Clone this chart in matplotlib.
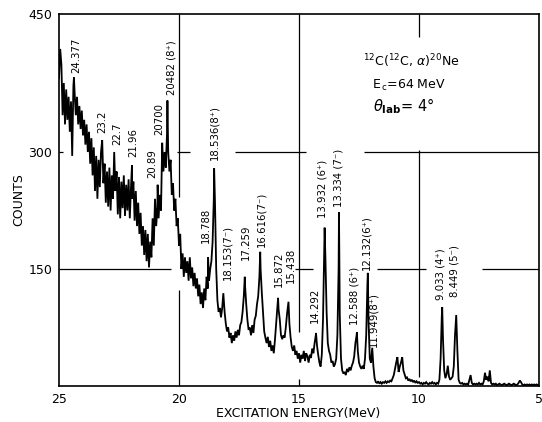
import numpy as np
import matplotlib
matplotlib.use("Agg")
import matplotlib.pyplot as plt

plt.rcParams["font.family"] = ["DejaVu Sans"]
plt.rcParams["mathtext.fontset"] = "dejavusans"

# Detector channels: 25.00 -> 5.00 MeV in 0.05 MeV steps
energy_grid = np.round(25.0 - 0.05 * np.arange(401), 2)
counts_grid = [
    # 25.00 - 24.05
    380, 412, 395, 340, 375, 330, 368, 335, 360, 322, 355, 295, 372, 365, 340, 360, 330, 350, 325, 345,
    # 24.00 - 23.05
    318, 335, 308, 330, 300, 322, 285, 315, 270, 305, 250, 295, 240, 290, 255, 300, 313, 260, 285, 235,
    # 23.00 - 22.05
    275, 230, 280, 225, 270, 240, 300, 250, 275, 220, 268, 215, 262, 228, 270, 218, 258, 225, 265, 215,
    # 22.00 - 21.05
    255, 240, 262, 212, 250, 205, 235, 195, 222, 180, 205, 168, 200, 160, 195, 152, 185, 165, 215, 180,
    # 21.00 - 20.05
    240, 205, 230, 215, 245, 225, 310, 275, 300, 280, 320, 300, 275, 290, 245, 260, 225, 240, 205, 215,
    # 20.00 - 19.05
    180, 195, 150, 170, 140, 165, 145, 160, 135, 165, 138, 152, 128, 145, 125, 138, 115, 130, 105, 120,
    # 19.00 - 18.05
    100, 125, 110, 140, 125, 135, 150, 160, 185, 240, 235, 150, 110, 95, 100, 88, 100, 115, 95, 80,
    # 18.00 - 17.05
    70, 75, 62, 68, 55, 65, 58, 70, 62, 72, 65, 78, 82, 95, 115, 130, 105, 85, 72, 75,
    # 17.00 - 16.05
    65, 78, 68, 85, 90, 105, 115, 140, 150, 120, 95, 70, 62, 55, 63, 50, 58, 45, 52, 42,
    # 16.00 - 15.05
    60, 80, 100, 98, 85, 65, 60, 65, 62, 75, 92, 104, 80, 62, 50, 45, 52, 40, 45, 35,
    # 15.00 - 14.05
    42, 30, 40, 35, 45, 32, 42, 38, 30, 40, 36, 48, 42, 55, 65, 52, 40, 30, 25, 40,
    # 14.00 - 13.05
    85, 170, 165, 95, 55, 45, 40, 30, 32, 25, 28, 35, 65, 150, 90, 35, 20, 16, 18, 14,
    # 13.00 - 12.05
    22, 18, 24, 20, 26, 30, 38, 55, 65, 45, 30, 25, 22, 26, 22, 35, 65, 130, 80, 35,
    # 12.00 - 11.05
    30, 48, 25, 10, 5, 4, 6, 3, 5, 3, 5, 4, 6, 4, 6, 5, 7, 6, 10, 14,
    # 11.00 - 10.05
    22, 30, 37, 18, 25, 30, 37, 20, 15, 10, 11, 7, 9, 6, 8, 5, 7, 4, 6, 4,
    # 10.00 - 9.05
    5, 3, 4, 2, 4, 3, 5, 3, 2, 4, 3, 5, 3, 4, 2, 4, 3, 8, 35, 90,
    # 9.00 - 8.05
    60, 20, 10, 15, 26, 12, 8, 10, 12, 25, 65, 88, 45, 8, 4, 3, 4, 2, 3, 2,
    # 8.00 - 7.05
    3, 2, 8, 14, 4, 2, 3, 2, 3, 2, 4, 2, 3, 2, 6, 17, 8, 12, 6, 20,
    # 7.00 - 6.05
    4, 2, 3, 2, 3, 1, 2, 3, 2, 1, 2, 3, 2, 1, 2, 3, 2, 1, 2, 3,
    # 6.00 - 5.05
    2, 1, 2, 4, 7, 5, 2, 1, 2, 1, 2, 1, 2, 1, 2, 1, 2, 1, 2, 1,
    # 5.00
    2,
]

# Identified states of 20Ne
peak_energy = [24.377, 23.2, 22.7, 21.96, 20.89, 20.700, 20.482, 18.788, 18.536,
               18.153, 17.259, 16.616, 15.872, 15.438, 14.292, 13.932, 13.334,
               12.588, 12.132, 11.949, 9.033, 8.449]
peak_counts = [381, 313, 300, 283, 258, 310, 356, 165, 279,
               119, 140, 172, 113, 108, 68, 203, 223,
               69, 145, 49, 101, 91]
peak_labels = ["24.377", "23.2", "22.7", "21.96", "20.89", "20700", "20482 (8\u207a)",
               "18.788", "18.536(8\u207a)", "18.153(7\u207b)", "17.259", "16.616(7\u207b)",
               "15.872", "15.438", "14.292", "13.932 (6\u207a)", "13.334 (7\u207b)",
               "12.588 (6\u207a)", "12.132(6\u207a)", "11.949(8\u207a)",
               "9.033 (4\u207a)", "8.449 (5\u207b)"]
# label placement (pixels): gap above the peak, sideways shift
label_gap = [4, 7, 7, 8, 7, 8, 5, 14, 8, 13, 17, 5, 11, 19, 10, 10, 5, 7, 3, 1, 7, 18]
label_dx = [2, 0, 3, 1, -5, -3, 4, -2, 0, 4, 1, 1, 1, 2, -1, -2, 0, -2, -1, 1, -2, -2]

x_ticks = [25, 20, 15, 10, 5]
y_ticks = [150, 300, 450]

# merge the peak maxima into the channel spectrum
spec = {float(e): c for e, c in zip(energy_grid, counts_grid)}
for e, c in zip(peak_energy, peak_counts):
    for g in [g for g in spec if abs(g - e) < 0.006]:
        del spec[g]
    spec[e] = c
E = np.array(sorted(spec, reverse=True))
C = np.array([spec[e] for e in E])

# vertical axis of the original plot is not uniformly ruled
Y_VAL = [0, 150, 300, 450]
Y_POS = [0, 117, 234, 372]


def fwd(y):
    return np.interp(y, Y_VAL, Y_POS)


def inv(p):
    return np.interp(p, Y_POS, Y_VAL)


fig = plt.figure(figsize=(5.42, 4.22), dpi=100)
ax = fig.add_axes([59 / 542, 1 - 386 / 422, 480 / 542, 372 / 422])
ax.set_yscale("function", functions=(fwd, inv))
ax.set_xlim(25, 5)
ax.set_ylim(0, 450)

# hand-ruled grid segments
h_grid = [(300, 25, 24.83), (300, 20.08, 19.54), (300, 17.67, 14.71), (300, 12.3, 5),
          (150, 25, 20.33), (150, 15.17, 14.42), (150, 11.75, 9.71), (150, 7.375, 5)]
v_grid = [(20, 0, 123), (20, 242, 450), (15, 69, 450), (15, 0, 9),
          (10, 11.5, 302), (10, 425, 450)]
for y, x0, x1 in h_grid:
    ax.plot([x0, x1], [y, y], color="black", lw=0.9, solid_capstyle="butt")
for x, y0, y1 in v_grid:
    ax.plot([x, x], [y0, y1], color="black", lw=0.9, solid_capstyle="butt")

ax.plot(E, C, color="black", lw=1.3, solid_joinstyle="miter")

for e, c, lab, gap, dx in zip(peak_energy, peak_counts, peak_labels, label_gap, label_dx):
    ax.annotate(lab, xy=(e, c), xytext=(dx, gap), textcoords="offset pixels",
                rotation=90, ha="center", va="bottom", fontsize=7.3, annotation_clip=False)

for s in ax.spines.values():
    s.set_linewidth(1.2)
ax.set_xticks(x_ticks)
ax.set_xticklabels([str(t) for t in x_ticks])
ax.set_yticks(y_ticks)
ax.set_yticklabels([str(t) for t in y_ticks])
ax.yaxis.set_minor_locator(matplotlib.ticker.NullLocator())
ax.tick_params(axis="both", length=0, labelsize=9)
ax.tick_params(axis="x", pad=5)
ax.tick_params(axis="y", pad=5)

ax.text(0.633, 0.874, r"$^{12}$C($^{12}$C, $\alpha$)$^{20}$Ne", transform=ax.transAxes,
        ha="left", va="center", fontsize=9)
ax.text(0.652, 0.809, r"E$_{\,\mathrm{c}}$=64 MeV", transform=ax.transAxes,
        ha="left", va="center", fontsize=9)
ax.text(0.654, 0.752, r"$\theta_{\mathbf{lab}}$= 4°", transform=ax.transAxes,
        ha="left", va="center", fontsize=10.5)

fig.text(19 / 542, 1 - 200 / 422, "COUNTS", rotation=90, ha="center", va="center", fontsize=9)
fig.text(298 / 542, 1 - 414 / 422, "EXCITATION ENERGY(MeV)", ha="center", va="center", fontsize=9)

fig.savefig("out.png", dpi=100)
